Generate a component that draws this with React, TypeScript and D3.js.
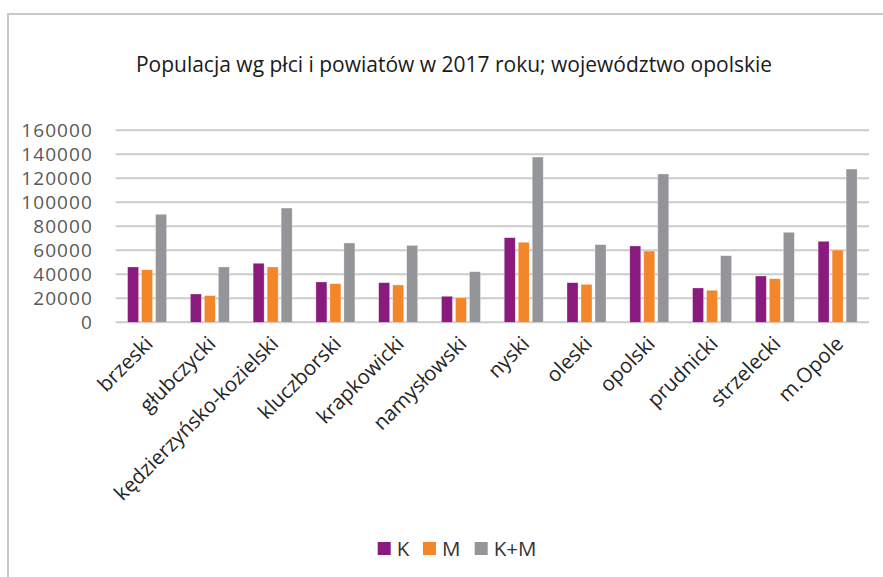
import React from "react";
import * as d3 from "d3";

const categories = [
  "brzeski",
  "głubczycki",
  "kędzierzyńsko-kozielski",
  "kluczborski",
  "krapkowicki",
  "namysłowski",
  "nyski",
  "oleski",
  "opolski",
  "prudnicki",
  "strzelecki",
  "m.Opole",
];
const seriesNames = ["K", "M", "K+M"];
const valuesK = [46100, 23600, 49200, 33600, 33000, 21700, 70500, 33000, 63600, 28600, 38600, 67500];
const valuesM = [43800, 22200, 46100, 32200, 31100, 20500, 66700, 31600, 59400, 26700, 36300, 60200];
const valuesKM = [90000, 46100, 95200, 66100, 64100, 42200, 137700, 64700, 123600, 55500, 75000, 127700];
const yTicks = [0, 20000, 40000, 60000, 80000, 100000, 120000, 140000, 160000];
const title = "Populacja wg płci i powiatów w 2017 roku; województwo opolskie";
const colors = ["#8a1a7d", "#f4862a", "#949598"];

const W = 883;
const H = 577;
const plotLeft = 115.7;
const plotRight = 869;
const plotTop = 130.3;
const plotBottom = 322.3;
const FONT = "'Open Sans', sans-serif";

export default function App() {
  const series = [valuesK, valuesM, valuesKM];
  const x0 = d3.scaleBand<string>().domain(categories).range([plotLeft, plotRight]).paddingInner(0).paddingOuter(0);
  const groupW = 39;
  const x1 = d3.scaleBand<string>().domain(seriesNames).range([0, groupW]).paddingInner(3 / 14).paddingOuter(0);
  const y = d3.scaleLinear().domain([0, 160000]).range([plotBottom, plotTop]);
  const bw = x0.bandwidth();

  return (
    <svg width={W} height={H} style={{ position: "absolute", left: 0, top: 0, background: "#fff" }}>
      <rect x={0} y={0} width={W} height={H} fill="#fff" />
      <rect x={8} y={14} width={W + 20} height={H + 20} fill="#fff" stroke="#c8c8c8" strokeWidth={2} />
      <text x={454} y={72} textAnchor="middle" fontFamily={FONT} fontSize={21} fill="#1a1a1a">
        {title}
      </text>
      {yTicks.map((t) => (
        <g key={t}>
          <line x1={plotLeft} x2={plotRight} y1={y(t)} y2={y(t)} stroke="#cbcbcb" strokeWidth={2} />
          <text
            x={93}
            y={y(t)}
            dy="0.36em"
            textAnchor="end"
            fontFamily={FONT}
            fontSize={19}
            letterSpacing={1.1}
            fill="#595959"
          >
            {t}
          </text>
        </g>
      ))}
      {categories.map((c, i) => {
        const gx = (x0(c) as number) + (bw - groupW) / 2;
        return (
          <g key={c}>
            {series.map((s, j) => (
              <rect
                key={j}
                x={gx + (x1(seriesNames[j]) as number)}
                y={y(s[i])}
                width={x1.bandwidth()}
                height={plotBottom - y(s[i])}
                fill={colors[j]}
                stroke="#ffffff"
                strokeOpacity={0.5}
                strokeWidth={0.6}
              />
            ))}
          </g>
        );
      })}
      {categories.map((c) => {
        const cx = (x0(c) as number) + bw / 2 + 7;
        const cy = 345;
        return (
          <text
            key={c}
            transform={`translate(${cx},${cy}) rotate(-45)`}
            textAnchor="end"
            fontFamily={FONT}
            fontSize={20.5}
            fill="#262626"
          >
            {c}
          </text>
        );
      })}
      {(() => {
        const items = [
          { x: 377.7, label: seriesNames[0] },
          { x: 423, label: seriesNames[1] },
          { x: 474.7, label: seriesNames[2] },
        ];
        return items.map((it, j) => (
          <g key={it.label}>
            <rect x={it.x} y={542} width={13} height={13} fill={colors[j]} />
            <text x={it.x + 19} y={548.5} dy="0.36em" fontFamily={FONT} fontSize={20.5} fill="#333">
              {it.label}
            </text>
          </g>
        ));
      })()}
    </svg>
  );
}
